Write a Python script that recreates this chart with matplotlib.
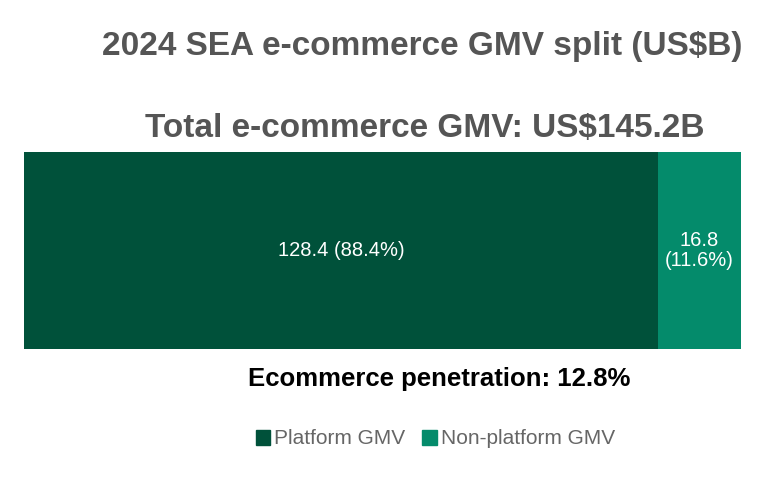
import matplotlib.pyplot as plt
from matplotlib.patches import Patch

segments = ["Platform GMV", "Non-platform GMV"]
values = [128.4, 16.8]
shares = [88.4, 11.6]
total = 145.2
penetration = 12.8
colors = ["#00513A", "#048B6B"]

fig = plt.figure(figsize=(7.83, 4.96), dpi=100)
ax = fig.add_axes([24 / 783, 1 - 349 / 496, 717 / 783, 197 / 496])

left = 0
for name, v, s, c in zip(segments, values, shares, colors):
    ax.barh(0, v, left=left, height=1, color=c, label=name)
    sep = " " if v > 50 else "\n"
    ax.text(left + v / 2, 0, f"{v}{sep}({s}%)", ha="center", va="center",
            color="white", fontsize=14.5, family="Liberation Sans", linespacing=1.1)
    left += v

ax.set_xlim(0, total)
ax.set_ylim(-0.5, 0.5)
ax.axis("off")

fig.text(0.539, 1 - 46 / 496, "2024 SEA e-commerce GMV split (US$B)", ha="center", va="center",
         fontsize=24, fontweight="bold", color="#555555", family="Liberation Sans")
fig.text(0.543, 1 - 128 / 496, f"Total e-commerce GMV: US${total}B", ha="center", va="center",
         fontsize=24, fontweight="bold", color="#555555", family="Liberation Sans")
fig.text(0.561, 1 - 379 / 496, f"Ecommerce penetration: {penetration}%", ha="center", va="center",
         fontsize=18.5, fontweight="bold", color="black", family="Liberation Sans")

handles = [Patch(color=c, label=n) for n, c in zip(segments, colors)]
fig.legend(handles=handles, loc="center", bbox_to_anchor=(0.556, 1 - 439 / 496), ncol=2,
           frameon=False, handlelength=0.7, handleheight=0.7,
           handletextpad=0.2, columnspacing=0.8,
           labelcolor="#666666", prop={"family": "Liberation Sans", "size": 15})

fig.savefig("out.png", dpi=100)
